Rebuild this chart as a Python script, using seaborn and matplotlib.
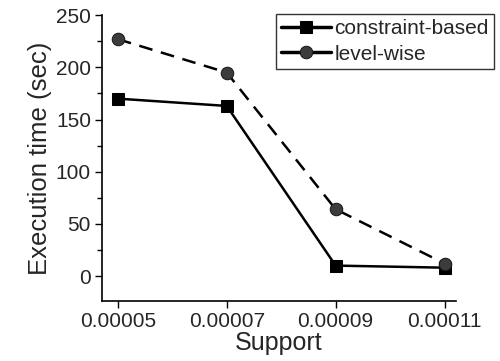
import matplotlib
matplotlib.use("Agg")
import matplotlib.pyplot as plt
import seaborn as sns
import pandas as pd
from matplotlib.ticker import MultipleLocator

support = [0.00005, 0.00007, 0.00009, 0.00011]
constraint_based = [170, 163, 10, 8]
level_wise = [227, 195, 64, 12]
x_ticklabels = ["0.00005", "0.00007", "0.00009", "0.00011"]

sns.set_style("ticks")
plt.rcParams["font.family"] = ["Liberation Sans", "DejaVu Sans"]

df = pd.DataFrame({
    "Support": support * 2,
    "time": constraint_based + level_wise,
    "method": ["constraint-based"] * 4 + ["level-wise"] * 4,
})

fig = plt.figure(figsize=(5.0, 3.61), dpi=100)
ax = fig.add_axes([0.204, 0.166, 0.708, 0.792])

sns.lineplot(data=df[df.method == "constraint-based"], x="Support", y="time",
             ax=ax, color="black", lw=1.8, marker="s", markersize=9,
             markerfacecolor="black", markeredgecolor="black",
             label="constraint-based")
sns.lineplot(data=df[df.method == "level-wise"], x="Support", y="time",
             ax=ax, color="black", lw=1.8, marker="o", markersize=9,
             markerfacecolor="#3c3c3c", markeredgecolor="#1a1a1a",
             label="level-wise")
ax.lines[1].set_dashes([5.5, 3.5])

ax.set_xlim(0.0000471, 0.0001121)
ax.set_ylim(-24, 250)
ax.set_xticks(support)
ax.set_xticklabels(x_ticklabels)
ax.yaxis.set_major_locator(MultipleLocator(50))
ax.yaxis.set_minor_locator(MultipleLocator(25))
ax.tick_params(axis="both", which="major", labelsize=15, length=5, width=1,
               direction="out", color="black", pad=3)
ax.tick_params(axis="y", which="minor", length=3.5, width=1, color="black")
ax.set_xlabel("Support", fontsize=18, labelpad=0)
ax.set_ylabel("Execution time (sec)", fontsize=18.5, labelpad=3)
for s in ["top", "right"]:
    ax.spines[s].set_visible(False)
for s in ["left", "bottom"]:
    ax.spines[s].set_linewidth(1.2)
    ax.spines[s].set_color("black")

leg = ax.legend(loc="upper right", bbox_to_anchor=(1.107, 1.005), fontsize=15,
                frameon=True, fancybox=False, handlelength=2.4, handletextpad=0.15,
                borderpad=0.25, labelspacing=0.32, borderaxespad=0.0)
leg.get_frame().set_edgecolor("black")
leg.get_frame().set_linewidth(1.0)
for h in leg.legend_handles:
    h.set_linestyle("-")
    h.set_linewidth(2.5)

fig.savefig("out.png", dpi=100)
